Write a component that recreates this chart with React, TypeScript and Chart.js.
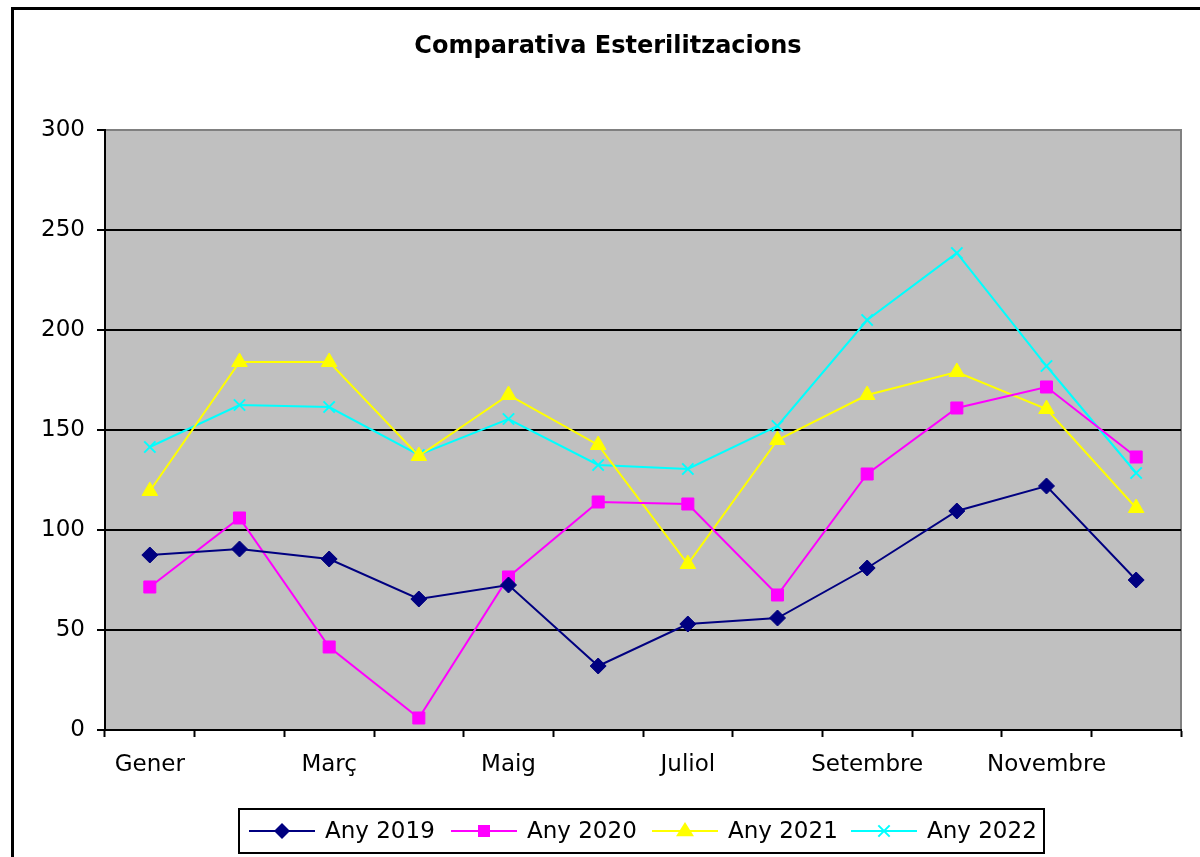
import React, { useEffect, useRef } from "react";
import { Chart, registerables } from "chart.js";

Chart.register(...registerables);

const months = ["Gener", "Febrer", "Març", "Abril", "Maig", "Juny", "Juliol", "Agost", "Setembre", "Octubre", "Novembre", "Desembre"];
const any2019 = [87.5, 90.5, 85.5, 65.5, 72.5, 32, 53, 56, 81, 109.5, 122, 75];
const any2020 = [71.5, 106, 41.5, 6, 76.5, 114, 113, 67.5, 128, 161, 171.5, 136.5];
const any2021 = [119.5, 184, 184, 137, 167.5, 142.5, 83, 145, 167.5, 179, 160.5, 111];
const any2022 = [141.5, 162.5, 161.5, 137.5, 155.5, 132.5, 130.5, 152, 205, 238.5, 182, 128.5];
const seriesLabels = ["Any 2019", "Any 2020", "Any 2021", "Any 2022"];
const titleText = "Comparativa Esterilitzacions";

const FONT = "'DejaVu Sans', 'Liberation Sans', Arial, sans-serif";

const bgPlugin = {
  id: "plotBg",
  beforeDraw(chart: any) {
    const { ctx, chartArea: a } = chart;
    ctx.save();
    ctx.fillStyle = "#C0C0C0";
    ctx.fillRect(a.left, a.top, a.right - a.left, a.bottom - a.top);
    ctx.strokeStyle = "#808080";
    ctx.lineWidth = 2;
    ctx.beginPath();
    ctx.moveTo(a.left, a.top);
    ctx.lineTo(a.right, a.top);
    ctx.lineTo(a.right, a.bottom);
    ctx.stroke();
    ctx.restore();
  },
};

function drawMarker(ctx: CanvasRenderingContext2D, style: string, x: number, y: number, r: number, fill: string, stroke: string, bw: number) {
  ctx.save();
  ctx.fillStyle = fill;
  ctx.strokeStyle = stroke;
  ctx.lineWidth = bw;
  ctx.beginPath();
  if (style === "rectRot") {
    ctx.moveTo(x, y - r);
    ctx.lineTo(x + r, y);
    ctx.lineTo(x, y + r);
    ctx.lineTo(x - r, y);
    ctx.closePath();
    ctx.fill();
  } else if (style === "rect") {
    const s = r * Math.SQRT1_2;
    ctx.rect(x - s, y - s, 2 * s, 2 * s);
    ctx.fill();
  } else if (style === "triangle") {
    ctx.moveTo(x, y - r);
    ctx.lineTo(x + r * 0.866 * 1.15, y + r * 0.5 * 1.15);
    ctx.lineTo(x - r * 0.866 * 1.15, y + r * 0.5 * 1.15);
    ctx.closePath();
    ctx.fill();
  } else if (style === "crossRot") {
    const s = r * Math.SQRT1_2;
    ctx.moveTo(x - s, y - s);
    ctx.lineTo(x + s, y + s);
    ctx.moveTo(x + s, y - s);
    ctx.lineTo(x - s, y + s);
    ctx.stroke();
  }
  ctx.restore();
}

const titleLegendPlugin = {
  id: "titleLegend",
  afterDraw(chart: any) {
    const { ctx } = chart;
    ctx.save();
    ctx.fillStyle = "#000";
    ctx.font = `bold 24px ${FONT}`;
    ctx.textAlign = "center";
    ctx.textBaseline = "middle";
    ctx.fillText(titleText, 608, 47);

    ctx.strokeStyle = "#000";
    ctx.lineWidth = 2;
    ctx.strokeRect(239, 809, 805, 44);
    const starts = [249, 451, 652, 851];
    ctx.font = `23px ${FONT}`;
    ctx.textAlign = "left";
    chart.data.datasets.forEach((ds: any, i: number) => {
      const x0 = starts[i];
      const y = 831;
      ctx.strokeStyle = ds.borderColor;
      ctx.lineWidth = 2;
      ctx.beginPath();
      ctx.moveTo(x0, y);
      ctx.lineTo(x0 + 66, y);
      ctx.stroke();
      drawMarker(ctx, ds.pointStyle, x0 + 33, y, ds.pointRadius, ds.pointBackgroundColor, ds.pointBorderColor, ds.pointBorderWidth);
      ctx.fillStyle = "#000";
      ctx.fillText(ds.label, x0 + 76, y + 1);
    });
    ctx.restore();
  },
};

export default function App() {
  const ref = useRef<HTMLCanvasElement | null>(null);

  useEffect(() => {
    if (!ref.current) return;
    const mk = (label: string, data: number[], color: string, style: string, radius: number, bw = 1) => ({
      label,
      data,
      borderColor: color,
      backgroundColor: color,
      borderWidth: 2,
      pointStyle: style,
      pointRadius: radius,
      pointHoverRadius: radius,
      pointBackgroundColor: color,
      pointBorderColor: color,
      pointBorderWidth: bw,
      tension: 0,
      fill: false,
    });
    const chart = new Chart(ref.current, {
      type: "line",
      data: {
        labels: months,
        datasets: [
          mk(seriesLabels[0], any2019, "#000080", "rectRot", 8),
          mk(seriesLabels[1], any2020, "#FF00FF", "rect", 8.5),
          mk(seriesLabels[2], any2021, "#FFFF00", "triangle", 9),
          mk(seriesLabels[3], any2022, "#00FFFF", "crossRot", 8, 2),
        ] as any,
      },
      options: {
        responsive: false,
        animation: false,
        events: [],
        layout: { padding: { left: 0, top: 130, right: 19, bottom: 0 } },
        plugins: {
          legend: { display: false },
          title: { display: false },
          tooltip: { enabled: false },
        },
        scales: {
          x: {
            type: "category",
            offset: true,
            afterFit: (s: any) => {
              s.height = 127;
            },
            grid: {
              offset: true,
              drawOnChartArea: false,
              drawTicks: true,
              tickLength: 7,
              tickWidth: 2,
              tickColor: "#000",
            },
            border: { display: true, color: "#000", width: 2 },
            ticks: {
              autoSkip: false,
              maxRotation: 0,
              color: "#000",
              padding: 14,
              font: { family: FONT, size: 23 },
              callback: (_v: any, i: number) => (i % 2 === 0 ? months[i] : ""),
            },
          },
          y: {
            min: 0,
            max: 300,
            afterFit: (s: any) => {
              s.width = 105;
            },
            grid: {
              color: (c: any) => (c.tick && c.tick.value === 300 ? "#808080" : "#000"),
              lineWidth: 2,
              drawTicks: true,
              tickLength: 8,
              tickColor: "#000",
              tickWidth: 2,
            },
            border: { display: true, color: "#000", width: 2 },
            ticks: {
              stepSize: 50,
              color: "#000",
              padding: 12,
              font: { family: FONT, size: 23 },
            },
          },
        },
      },
      plugins: [bgPlugin, titleLegendPlugin],
    } as any);
    return () => chart.destroy();
  }, []);

  return (
    <div style={{ position: "absolute", left: 0, top: 0, width: 1200, height: 857, background: "#fff", overflow: "hidden" }}>
      <div
        style={{
          position: "absolute",
          left: 11,
          top: 7,
          width: 1300,
          height: 1000,
          border: "3px solid #000",
          boxSizing: "border-box",
        }}
      />
      <canvas ref={ref} width={1200} height={857} style={{ position: "absolute", left: 0, top: 0 }} />
    </div>
  );
}
